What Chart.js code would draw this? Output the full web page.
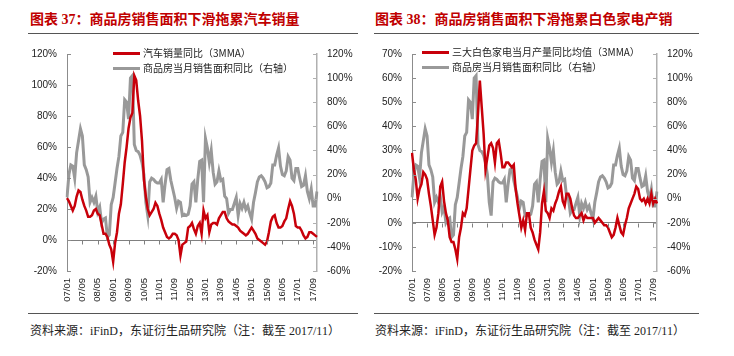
<!DOCTYPE html>
<html><head><meta charset="utf-8">
<script src="https://cdn.jsdelivr.net/npm/chart.js@4.4.1/dist/chart.umd.min.js"></script>
<style>
body{margin:0;background:#fff;width:734px;height:356px;position:relative;overflow:hidden;font-family:"Noto Sans CJK SC",sans-serif}
.t{position:absolute;top:10px;font-weight:bold;font-size:14px;font-family:"Liberation Serif","Noto Sans CJK SC";color:#C00000;white-space:nowrap;line-height:20px}
.hr{position:absolute;height:1px;background:#555}
.src{position:absolute;top:323px;font-size:12px;font-family:"Liberation Serif","Noto Sans CJK SC";color:#222;white-space:nowrap;line-height:16px}
.lg{position:absolute;font-size:10px;font-family:"Noto Sans CJK SC";color:#222;white-space:nowrap;line-height:14px}
.sw{position:absolute;height:3px;width:27px}
canvas{position:absolute}
</style></head><body>
<div class="t" style="left:30px">图表 37：商品房销售面积下滑拖累汽车销量</div>
<div class="t" style="left:375px">图表 38：商品房销售面积下滑拖累白色家电产销</div>
<div class="hr" style="left:28px;width:330px;top:33px"></div>
<div class="hr" style="left:374px;width:325px;top:33px"></div>
<canvas id="c1" width="367" height="272" style="left:0;top:38px"></canvas>
<canvas id="c2" width="367" height="272" style="left:367px;top:38px"></canvas>
<div class="sw" style="left:113px;top:52px;background:#C8000A"></div>
<div class="lg" style="left:143px;top:46px">汽车销量同比（3MMA）</div>
<div class="sw" style="left:113px;top:67px;background:#999"></div>
<div class="lg" style="left:143px;top:61px">商品房当月销售面积同比（右轴）</div>
<div class="sw" style="left:422px;top:51px;background:#C8000A"></div>
<div class="lg" style="left:452px;top:45px">三大白色家电当月产量同比均值（3MMA）</div>
<div class="sw" style="left:422px;top:66px;background:#999"></div>
<div class="lg" style="left:452px;top:60px">商品房当月销售面积同比（右轴）</div>
<div class="hr" style="left:28px;width:330px;top:313px"></div>
<div class="hr" style="left:374px;width:325px;top:313px"></div>
<div class="src" style="left:30px">资料来源：iFinD，东证衍生品研究院（注：截至 2017/11）</div>
<div class="src" style="left:375px">资料来源：iFinD，东证衍生品研究院（注：截至 2017/11）</div>
<script>
const months = [
"07/01","07/02","07/03","07/04","07/05","07/06","07/07","07/08","07/09","07/10","07/11","07/12",
"08/01","08/02","08/03","08/04","08/05","08/06","08/07","08/08","08/09","08/10","08/11","08/12",
"09/01","09/02","09/03","09/04","09/05","09/06","09/07","09/08","09/09","09/10","09/11","09/12",
"10/01","10/02","10/03","10/04","10/05","10/06","10/07","10/08","10/09","10/10","10/11","10/12",
"11/01","11/02","11/03","11/04","11/05","11/06","11/07","11/08","11/09","11/10","11/11","11/12",
"12/01","12/02","12/03","12/04","12/05","12/06","12/07","12/08","12/09","12/10","12/11","12/12",
"13/01","13/02","13/03","13/04","13/05","13/06","13/07","13/08","13/09","13/10","13/11","13/12",
"14/01","14/02","14/03","14/04","14/05","14/06","14/07","14/08","14/09","14/10","14/11","14/12",
"15/01","15/02","15/03","15/04","15/05","15/06","15/07","15/08","15/09","15/10","15/11","15/12",
"16/01","16/02","16/03","16/04","16/05","16/06","16/07","16/08","16/09","16/10","16/11","16/12",
"17/01","17/02","17/03","17/04","17/05","17/06","17/07","17/08","17/09","17/10","17/11"];
const labelEvery = 8;

// 商品房当月销售面积同比 (%), right axis in both panels
const houseSales = [
1,20,28,27,17,38,48,58,52,28,
24,18,-3,1,-3,2,-11,-7,-20,-17,
-16,-32,-30,-5,1,13,25,35,52,55,
82,80,66,100,102,45,40,39,36,30,
20,-3,-14,14,17,16,14,13,13,16,
-3,12,24,25,15,8,1,-8,-2,-3,
-14,-13,-14,-13,-6,12,14,-3,16,31,
32,-3,50,42,30,40,22,12,14,23,
15,16,2,0,-12,-9,-9,-4,1,-14,
-4,-8,-3,-9,-6,-12,-17,-3,5,14,
18,19,17,14,9,10,13,28,28,36,
42,27,20,19,23,35,32,17,15,25,
25,17,10,11,19,6,0,8,-6,-6,
6];

// 汽车销量同比 (3MMA, %)
const carSales = [
27,25,22,19,22,28,32,31,26,22,
19,15,15,16,19,20,17,16,10,4,
4,2,-3,-6,-14,-2,5,17,23,36,
50,60,72,79,82,106,103,90,80,64,
39,28,20,16,18,20,24,22,17,13,
8,5,2,1,2,4,4,3,0,-10,
-3,-2,-1,8,9,11,7,4,9,11,
4,19,14,16,5,10,11,11,10,14,
16,18,18,14,12,11,10,10,9,8,
6,5,4,3,4,6,8,6,4,1,
0,-1,-2,-3,-1,5,12,15,16,11,
8,8,9,12,14,20,25,22,17,9,
8,8,6,3,1,2,5,5,4,3,
2];

// 三大白色家电当月产量同比均值 (3MMA, %)
const appliance = [
29,22,18,10,14,16,21,20,18,12,
7,1,-5,-2,4,15,17,9,4,1,
-6,-8,-8,-11,-15,-6,-2,4,3,6,
14,22,30,32,33,45,59,48,37,22,
27,32,33,31,25,33,34,29,23,23,
25,25,24,23,24,14,8,3,-2,1,
-3,4,4,-2,-4,-7,-9,-11,-4,8,
13,5,4,2,6,5,8,10,13,15,
9,7,12,12,10,6,3,2,2,3,
4,1,3,2,2,2,2,0,1,2,
1,0,-1,-1,-2,-4,-6,-5,-2,2,
-1,-4,-5,-1,2,6,8,10,12,15,
14,10,9,10,8,10,8,12,8,10,
8];

const leftTicks1 = {min:-20, max:120, step:20};
const rightTicks = {min:-60, max:120, step:20};
const leftTicks2 = {min:-20, max:70, step:10};

const RED = '#C8000A', GRAY = '#999999';
const AX_L = '#8c8c8c', AX_R = '#b0b0b0';

const tickMarks = {
  id: 'tickMarks',
  afterDatasetsDraw(chart) {
    const {ctx, chartArea: a, scales} = chart;
    ctx.save();
    ctx.lineWidth = 1;
    ctx.strokeStyle = AX_L;
    const yl = scales.y, yr = scales.y1, x = scales.x;
    yl.ticks.forEach((t, i) => {
      const p = Math.round(yl.getPixelForTick(i)) + 0.5;
      ctx.beginPath(); ctx.moveTo(a.left, p); ctx.lineTo(a.left + 4, p); ctx.stroke();
    });
    ctx.strokeStyle = AX_R;
    yr.ticks.forEach((t, i) => {
      const p = Math.round(yr.getPixelForTick(i)) + 0.5;
      ctx.beginPath(); ctx.moveTo(a.right - 4, p); ctx.lineTo(a.right, p); ctx.stroke();
    });
    ctx.strokeStyle = '#808080';
    const z = Math.round(yl.getPixelForValue(0)) + 0.5;
    for (let i = labelEvery; i < x.ticks.length; i += labelEvery) {
      const px = Math.round(x.getPixelForTick(i)) + 0.5;
      ctx.beginPath(); ctx.moveTo(px, z); ctx.lineTo(px, z + 4); ctx.stroke();
    }
    ctx.restore();
  }
};

function makeChart(id, redData, leftT, leftW, rightW) {
  const tickFont = {family: '"Liberation Sans", Arial, sans-serif', size: 10};
  return new Chart(document.getElementById(id), {
    type: 'line',
    data: {
      labels: months,
      datasets: [
        {data: redData, borderColor: RED, borderWidth: 2.5, pointRadius: 0, yAxisID: 'y', tension: 0},
        {data: houseSales, borderColor: GRAY, borderWidth: 3, pointRadius: 0, yAxisID: 'y1', tension: 0}
      ]
    },
    options: {
      responsive: false,
      animation: false,
      devicePixelRatio: 1,
      layout: {padding: {top: 13, left: 0, right: 0, bottom: 0}},
      plugins: {legend: {display: false}, tooltip: {enabled: false}},
      scales: {
        x: {
          grid: {display: false, drawTicks: false},
          border: {display: false},
          ticks: {
            autoSkip: false, minRotation: 90, maxRotation: 90, padding: 7,
            color: '#222', font: {family: '"Liberation Sans", Arial, sans-serif', size: 9.5},
            callback: (v, i) => (i % labelEvery === 0 ? months[i] : '')
          },
          afterFit: s => { s.height = 39; }
        },
        y: {
          position: 'left', min: leftT.min, max: leftT.max,
          ticks: {stepSize: leftT.step, padding: 10, color: '#222', font: tickFont, callback: v => v + '%'},
          grid: {drawTicks: false, color: c => (c.tick && c.tick.value === 0 ? '#808080' : 'rgba(0,0,0,0)'), lineWidth: 1},
          border: {display: true, color: AX_L, width: 1},
          afterFit: s => { s.width = leftW; }
        },
        y1: {
          position: 'right', min: rightTicks.min, max: rightTicks.max,
          ticks: {stepSize: rightTicks.step, padding: 10, color: '#222', font: tickFont, callback: v => v + '%'},
          grid: {drawTicks: false, drawOnChartArea: false},
          border: {display: true, color: AX_R, width: 1.5},
          afterFit: s => { s.width = rightW; }
        }
      }
    },
    plugins: [tickMarks]
  });
}

makeChart('c1', carSales, leftTicks1, 67, 50);
makeChart('c2', appliance, leftTicks2, 45, 77);
</script>
</body></html>
